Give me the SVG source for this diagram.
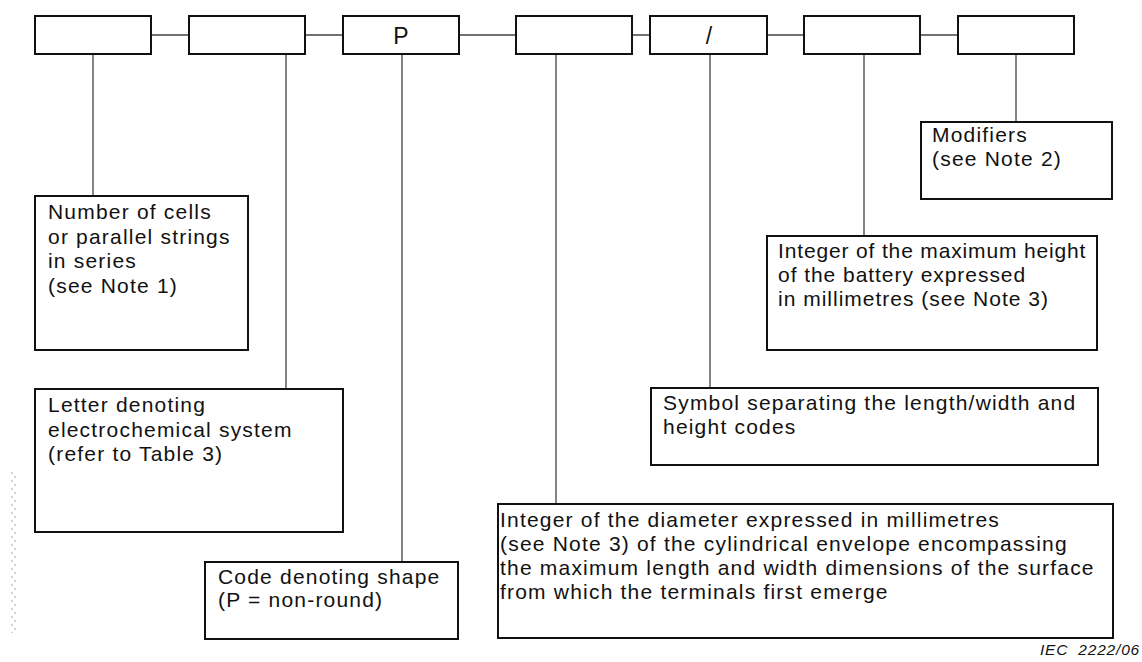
<svg xmlns="http://www.w3.org/2000/svg" width="1142" height="662" viewBox="0 0 1142 662">
<style>
.box{fill:#fff;stroke:#111;stroke-width:2}
.c{stroke:#444;stroke-width:1.3;fill:none}
.t{font-family:"Liberation Sans",Arial,sans-serif;font-size:21px;letter-spacing:1.2px;fill:#111}
.big{font-family:"Liberation Sans",Arial,sans-serif;font-size:23px;fill:#111;text-anchor:middle}
.iec{font-family:"Liberation Sans",Arial,sans-serif;font-size:15.5px;font-style:italic;letter-spacing:0.8px;fill:#111;text-anchor:end;white-space:pre}
.noise{stroke:#aaa;stroke-width:1;stroke-dasharray:2 6;fill:none}
</style>
<rect width="1142" height="662" fill="#fff"/>
<g id="connectors">
<path class="c" d="M151 35H189M305 35H343M459 35H516M632 35H650M767 35H804M920 35H958"/>
<path class="c" d="M93 54V196M286 54V389M402 54V562M556 54V504M710 54V388M864 54V236M1016 54V122"/>
</g>
<g id="code1"><rect class="box" x="35" y="16" width="116" height="38"/></g>
<g id="code2"><rect class="box" x="189" y="16" width="116" height="38"/></g>
<g id="code3"><rect class="box" x="343" y="16" width="116" height="38"/><text class="big" x="401" y="44">P</text></g>
<g id="code4"><rect class="box" x="516" y="16" width="116" height="38"/></g>
<g id="code5"><rect class="box" x="650" y="16" width="117" height="38"/><text class="big" x="709" y="44">/</text></g>
<g id="code6"><rect class="box" x="804" y="16" width="116" height="38"/></g>
<g id="code7"><rect class="box" x="958" y="16" width="116" height="38"/></g>
<g id="n-number"><rect class="box" x="35" y="196" width="213" height="154"/>
<text class="t" x="48" y="219">Number of cells</text>
<text class="t" x="48" y="243.5">or parallel strings</text>
<text class="t" x="48" y="268">in series</text>
<text class="t" x="48" y="292.5">(see Note 1)</text></g>
<g id="n-letter"><rect class="box" x="35" y="389" width="308" height="143"/>
<text class="t" x="48" y="412">Letter denoting</text>
<text class="t" x="48" y="436.5">electrochemical system</text>
<text class="t" x="48" y="461">(refer to Table 3)</text></g>
<g id="n-shape"><rect class="box" x="205" y="562" width="253" height="77"/>
<text class="t" x="218" y="584">Code denoting shape</text>
<text class="t" x="218" y="607">(P = non-round)</text></g>
<g id="n-diameter"><rect class="box" x="498" y="504" width="615" height="134"/>
<text class="t" x="500" y="527">Integer of the diameter expressed in millimetres</text>
<text class="t" x="500" y="551">(see Note 3) of the cylindrical envelope encompassing</text>
<text class="t" x="500" y="575">the maximum length and width dimensions of the surface</text>
<text class="t" x="500" y="599">from which the terminals first emerge</text></g>
<g id="n-symbol"><rect class="box" x="651" y="388" width="447" height="77"/>
<text class="t" x="663" y="410">Symbol separating the length/width and</text>
<text class="t" x="663" y="434">height codes</text></g>
<g id="n-height"><rect class="box" x="767" y="236" width="330" height="114"/>
<text class="t" x="778" y="258" style="letter-spacing:0.85px">Integer of the maximum height</text>
<text class="t" x="778" y="282" style="letter-spacing:0.95px">of the battery expressed</text>
<text class="t" x="778" y="306" style="letter-spacing:1px">in millimetres (see Note 3)</text></g>
<g id="n-modifiers"><rect class="box" x="921" y="122" width="191" height="77"/>
<text class="t" x="932" y="142">Modifiers</text>
<text class="t" x="932" y="166">(see Note 2)</text></g>
<text class="iec" x="1140" y="655">IEC  2222/06</text>
<path class="noise" d="M12 472V633M15 476V630"/>
</svg>
